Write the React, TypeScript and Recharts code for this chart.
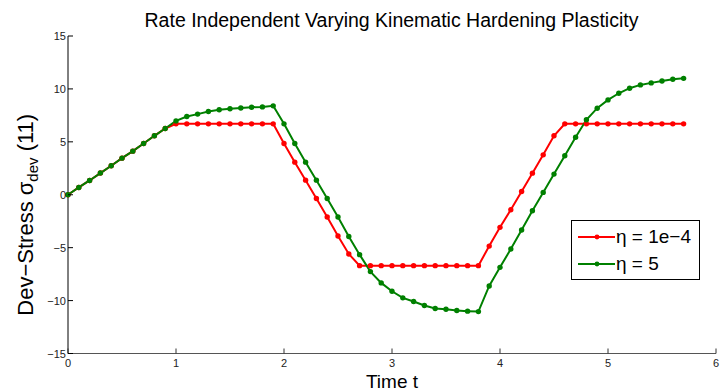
import React from 'react';
import { LineChart, Line, XAxis, YAxis } from 'recharts';

// sample times (s), one point every 0.1
const time = [
  0, 0.1, 0.2, 0.3, 0.4, 0.5, 0.6, 0.7, 0.8, 0.9,
  1.0, 1.1, 1.2, 1.3, 1.4, 1.5, 1.6, 1.7, 1.8, 1.9,
  2.0, 2.1, 2.2, 2.3, 2.4, 2.5, 2.6, 2.7, 2.8, 2.9,
  3.0, 3.1, 3.2, 3.3, 3.4, 3.5, 3.6, 3.7, 3.8, 3.9,
  4.0, 4.1, 4.2, 4.3, 4.4, 4.5, 4.6, 4.7, 4.8, 4.9,
  5.0, 5.1, 5.2, 5.3, 5.4, 5.5, 5.6, 5.7,
];

// eta = 1e-4 (rate independent limit)
const stressLowEta = [
  0, 0.69, 1.35, 2.05, 2.74, 3.46, 4.12, 4.84, 5.57, 6.26,
  6.7, 6.7, 6.7, 6.7, 6.7, 6.7, 6.7, 6.7, 6.7, 6.7,
  4.84, 3.08, 1.38, -0.35, -2.1, -3.9, -5.6, -6.7, -6.7, -6.7,
  -6.7, -6.7, -6.7, -6.7, -6.7, -6.7, -6.7, -6.7, -6.7, -4.85,
  -3.08, -1.42, 0.31, 2.04, 3.77, 5.57, 6.7, 6.7, 6.7, 6.7,
  6.7, 6.7, 6.7, 6.7, 6.7, 6.7, 6.7, 6.7,
];

// eta = 5
const stressHighEta = [
  0, 0.69, 1.35, 2.05, 2.74, 3.46, 4.12, 4.84, 5.57, 6.26,
  6.98, 7.39, 7.62, 7.86, 8.03, 8.12, 8.2, 8.27, 8.3, 8.4,
  6.7, 4.84, 3.08, 1.38, -0.35, -2.1, -3.94, -5.66, -7.26, -8.33,
  -9.12, -9.74, -10.09, -10.47, -10.75, -10.82, -10.94, -11.0, -11.04, -8.62,
  -6.86, -5.13, -3.33, -1.51, 0.22, 1.95, 3.68, 5.44, 7.08, 8.18,
  8.96, 9.59, 10.07, 10.38, 10.57, 10.75, 10.91, 11.0,
];

const xTicks = [0, 1, 2, 3, 4, 5, 6];
const yTicks = [-15, -10, -5, 0, 5, 10, 15];

const seriesNames = ['\u03B7 = 1e\u22124', '\u03B7 = 5'];
const seriesColors = ['#ff0000', '#008000'];

const data = time.map((t, i) => ({ t, low: stressLowEta[i], high: stressHighEta[i] }));

const FONT = '"Liberation Sans", Arial, Helvetica, sans-serif';

const fmt = (v: number) => (v < 0 ? '\u2212' + Math.abs(v) : String(v));

const XTick = ({ x, y, payload }: any) => (
  <g>
    <line x1={x} y1={y} x2={x} y2={y - 5} stroke="#333" strokeWidth={1} />
    <text x={x} y={y + 13} textAnchor="middle" fontSize={11} fill="#222" fontFamily={FONT}>
      {fmt(payload.value)}
    </text>
  </g>
);

const YTick = ({ x, y, payload }: any) => (
  <g>
    <line x1={x} y1={y} x2={x + 5} y2={y} stroke="#000" strokeWidth={1} />
    <text x={x - 2} y={y + 4} textAnchor="end" fontSize={11} fill="#222" fontFamily={FONT}>
      {fmt(payload.value)}
    </text>
  </g>
);

// rotated axis title with a subscript on sigma
const YLabel = ({ viewBox }: any) => {
  const cx = viewBox.x + 33;
  const cy = viewBox.y + viewBox.height / 2 + 20;
  return (
    <text
      x={cx}
      y={cy}
      transform={`rotate(-90 ${cx} ${cy})`}
      textAnchor="middle"
      fontSize={22}
      fontFamily={FONT}
      fill="#000"
    >
      Dev{'\u2212'}Stress {'\u03C3'}
      <tspan fontSize={15} dy={5}>dev</tspan>
      <tspan dy={-5}> (11)</tspan>
    </text>
  );
};

const XLabel = ({ viewBox }: any) => (
  <text
    x={viewBox.x + viewBox.width / 2}
    y={viewBox.y + 34.5}
    textAnchor="middle"
    fontSize={19}
    fontFamily={FONT}
    fill="#000"
  >
    Time t
  </text>
);

const LegendBox = () => (
  <div
    style={{
      position: 'absolute',
      left: 571,
      top: 220,
      width: 127,
      height: 58,
      border: '1px solid #000',
      background: '#fff',
      fontFamily: FONT,
      fontSize: 19,
    }}
  >
    {seriesNames.map((name, i) => (
      <div key={name} style={{ display: 'flex', alignItems: 'center', height: 27, marginTop: i === 0 ? 2 : 0 }}>
        <svg width={44} height={12} style={{ flex: 'none' }}>
          <line x1={6} y1={6} x2={43} y2={6} stroke={seriesColors[i]} strokeWidth={2} />
          <circle cx={25} cy={6} r={2.4} fill={seriesColors[i]} />
        </svg>
        <span style={{ lineHeight: '20px' }}>{name}</span>
      </div>
    ))}
  </div>
);

export default function App() {
  return (
    <div style={{ position: 'absolute', left: 0, top: 0, width: 724, height: 392, background: '#fff' }}>
      <LineChart width={724} height={392} data={data} margin={{ top: 36, right: 8, bottom: 0, left: 0 }}>
        <XAxis
          dataKey="t"
          type="number"
          domain={[0, 6]}
          ticks={xTicks}
          height={38.5}
          tickSize={0}
          tickMargin={0}
          tickLine={false}
          axisLine={{ stroke: '#555', strokeWidth: 1 }}
          tick={<XTick />}
          interval={0}
          label={(p: any) => <XLabel {...p} />}
        />
        <YAxis
          type="number"
          domain={[-15, 15]}
          ticks={yTicks}
          width={68}
          tickSize={0}
          tickMargin={0}
          tickLine={false}
          axisLine={{ stroke: '#000', strokeWidth: 1 }}
          tick={<YTick />}
          interval={0}
          allowDataOverflow
          label={(p: any) => <YLabel {...p} />}
        />
        <Line
          type="linear"
          dataKey="low"
          name={seriesNames[0]}
          stroke={seriesColors[0]}
          strokeWidth={2}
          dot={{ r: 2.7, fill: seriesColors[0], stroke: seriesColors[0], strokeWidth: 0 }}
          isAnimationActive={false}
        />
        <Line
          type="linear"
          dataKey="high"
          name={seriesNames[1]}
          stroke={seriesColors[1]}
          strokeWidth={2}
          dot={{ r: 2.7, fill: seriesColors[1], stroke: seriesColors[1], strokeWidth: 0 }}
          isAnimationActive={false}
        />
      </LineChart>
      <svg width={724} height={40} style={{ position: 'absolute', left: 0, top: 0, pointerEvents: 'none' }}>
        <text x={391.5} y={27} textAnchor="middle" fontSize={19.5} fontFamily={FONT} fill="#000">
          Rate Independent Varying Kinematic Hardening Plasticity
        </text>
      </svg>
      <LegendBox />
    </div>
  );
}
